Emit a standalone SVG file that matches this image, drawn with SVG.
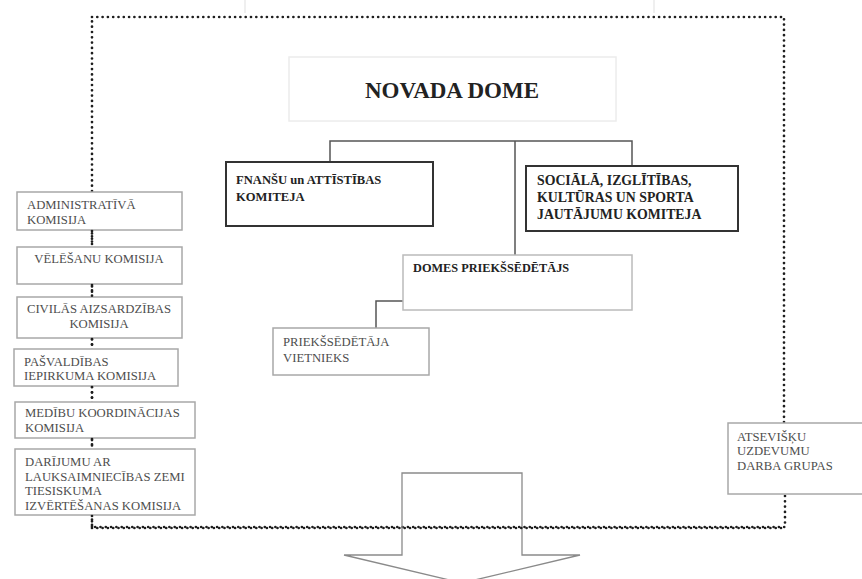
<svg xmlns="http://www.w3.org/2000/svg" width="862" height="579" viewBox="0 0 862 579">
<style>
.dot{fill:none;stroke:#1e1e1e;stroke-width:2.7;stroke-linecap:round;stroke-dasharray:0 5.3}
.con{fill:none;stroke:#555;stroke-width:1.5}
.box{fill:#fff;stroke:#a8a8a8;stroke-width:1.5}
.kom{fill:#fff;stroke:#333;stroke-width:2}
.t{font-family:"Liberation Serif","Times New Roman",serif;font-size:12.7px;fill:#4d4d4d}
.b{font-family:"Liberation Serif","Times New Roman",serif;font-weight:bold;fill:#222}
</style>
<rect width="862" height="579" fill="#fff"/>
<g id="top-fragment"><path d="M245 0V13M654 0V13" stroke="#e4e4e4" stroke-width="1.2" fill="none"/></g>
<g id="connectors">
<path class="dot" d="M92 17H784V423M785 496V527H92V17"/>
<path class="con" d="M330 162V141H632V166M515 141V255M403 301H376V328"/>
</g>
<g id="arrow"><path d="M402 555V473H522V555H580L462 583L344 555Z" fill="none" stroke="#8a8a8a" stroke-width="1.3"/></g>
<path class="dot" d="M92 528H785"/>
<g id="novada-dome"><rect x="289" y="57" width="327" height="64" fill="#fff" stroke="#ececec" stroke-width="1.5"/><text class="b" x="452" y="98" text-anchor="middle" font-size="23">NOVADA DOME</text></g>
<g id="finansu-komiteja"><rect class="kom" x="226" y="162" width="207" height="64"/><text class="b" font-size="12.6"><tspan x="236" y="184">FNANŠU un ATTĪSTĪBAS</tspan><tspan x="236" y="200.5">KOMITEJA</tspan></text></g>
<g id="sociala-komiteja"><rect class="kom" x="526" y="166" width="212" height="65"/><text class="b" font-size="13.8"><tspan x="537" y="185">SOCIĀLĀ, IZGLĪTĪBAS,</tspan><tspan x="537" y="202">KULTŪRAS UN SPORTA</tspan><tspan x="537" y="219">JAUTĀJUMU KOMITEJA</tspan></text></g>
<g id="domes-priekssedetajs"><rect x="403" y="255" width="229" height="55" fill="#fff" stroke="#bbb" stroke-width="1.5"/><text class="b" x="413" y="272" font-size="12.3" fill="#333">DOMES PRIEKŠSĒDĒTĀJS</text></g>
<g id="vietnieks"><rect class="box" x="273" y="328" width="156" height="47"/><text class="t" font-size="13.6"><tspan x="283" y="346">PRIEKŠSĒDĒTĀJA</tspan><tspan x="283" y="362">VIETNIEKS</tspan></text></g>
<g id="administrativa"><rect class="box" x="17" y="192" width="165" height="38"/><text class="t"><tspan x="27" y="209">ADMINISTRATĪVĀ</tspan><tspan x="27" y="224">KOMISIJA</tspan></text></g>
<g id="velesanu"><rect class="box" x="17" y="247" width="165" height="37"/><text class="t" x="99" y="263" text-anchor="middle">VĒLĒŠANU KOMISIJA</text></g>
<g id="civilas"><rect class="box" x="17" y="297" width="165" height="41"/><text class="t" text-anchor="middle"><tspan x="99" y="313">CIVILĀS AIZSARDZĪBAS</tspan><tspan x="99" y="328">KOMISIJA</tspan></text></g>
<g id="iepirkuma"><rect class="box" x="14" y="349" width="164" height="37"/><text class="t"><tspan x="24" y="366">PAŠVALDĪBAS</tspan><tspan x="24" y="380">IEPIRKUMA KOMISIJA</tspan></text></g>
<g id="medibu"><rect class="box" x="15" y="402" width="180" height="36"/><text class="t"><tspan x="25" y="417">MEDĪBU KOORDINĀCIJAS</tspan><tspan x="25" y="432">KOMISIJA</tspan></text></g>
<g id="darijumu"><rect class="box" x="15" y="449" width="180" height="66"/><text class="t"><tspan x="25" y="466">DARĪJUMU AR</tspan><tspan x="25" y="480.5">LAUKSAIMNIECĪBAS ZEMI</tspan><tspan x="25" y="495">TIESISKUMA</tspan><tspan x="25" y="509.5">IZVĒRTĒŠANAS KOMISIJA</tspan></text></g>
<g id="left-links"><path class="dot" d="M92 231V246M92 285V296M92 339V348M92 387V401M92 439V448M92 516V527"/></g>
<g id="darba-grupas"><rect class="box" x="728" y="423" width="140" height="71"/><text class="t"><tspan x="737" y="441">ATSEVIŠĶU</tspan><tspan x="737" y="455">UZDEVUMU</tspan><tspan x="737" y="470">DARBA GRUPAS</tspan></text></g>
</svg>
